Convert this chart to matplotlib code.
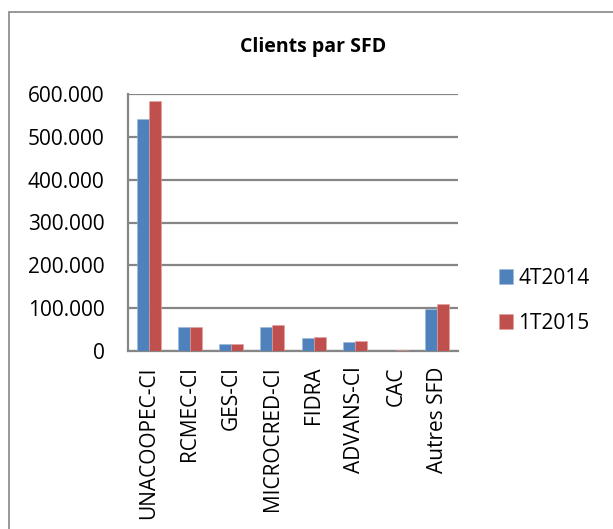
import matplotlib.pyplot as plt
import matplotlib.patches as patches
from matplotlib.ticker import FuncFormatter
import numpy as np

# Data
categories = ['UNACOOPEC-CI', 'RCMEC-CI', 'GES-CI', 'MICROCRED-CI',
              'FIDRA', 'ADVANS-CI', 'CAC', 'Autres SFD']
t4_2014 = [542000, 56000, 15600, 57000, 31000, 21000, 500, 98000]
t1_2015 = [583000, 57000, 16300, 60700, 32700, 24000, 3000, 110500]
series_names = ['4T2014', '1T2015']
yticks = [0, 100000, 200000, 300000, 400000, 500000, 600000]

blue = '#4F81BD'
red = '#C0504D'
grid_col = '#868686'

plt.rcParams['font.family'] = ['Open Sans', 'DejaVu Sans']

fig = plt.figure(figsize=(6.13, 5.29), dpi=100)

# outer chart frame (right/bottom edges run past the image)
frame = patches.Rectangle((9 / 613, -0.1), 1.2, 1 - 12 / 529 + 0.1,
                          transform=fig.transFigure, fill=False,
                          edgecolor=grid_col, linewidth=1.2)
fig.patches.append(frame)

ax = fig.add_axes([128 / 613, 1 - 351 / 529, 330 / 613, 257 / 529])

x = np.arange(len(categories))
w = 0.29
b1 = ax.bar(x - w / 2, t4_2014, w, color=blue, edgecolor='#9db8d9',
            linewidth=0.4, label=series_names[0], zorder=3)
b2 = ax.bar(x + w / 2, t1_2015, w, color=red, edgecolor='#e0a09e',
            linewidth=0.4, label=series_names[1], zorder=3)

ax.set_xlim(-0.5, len(categories) - 0.5)
ax.set_ylim(0, 600000)
ax.set_yticks(yticks)
ax.yaxis.set_major_formatter(
    FuncFormatter(lambda v, p: f'{int(v):,}'.replace(',', '.')))
ax.grid(axis='y', color=grid_col, linewidth=1.6, zorder=0)
ax.set_xticks(x)
ax.set_xticklabels(categories, rotation=90, fontsize=15)
ax.tick_params(axis='y', labelsize=15, length=0, pad=17)
ax.tick_params(axis='x', length=0, pad=11)

for s in ['top', 'right']:
    ax.spines[s].set_visible(False)
for s in ['left', 'bottom']:
    ax.spines[s].set_color(grid_col)
    ax.spines[s].set_linewidth(1.6)

fig.text(313 / 613, 1 - 47 / 529, 'Clients par SFD', ha='center',
         va='center', fontsize=14, fontweight='bold')

fig.legend(handles=[b1, b2], loc='center left',
           bbox_to_anchor=(480 / 613, 1 - 301 / 529), frameon=False,
           fontsize=15, handlelength=0.7, handleheight=0.7,
           handletextpad=0.25, labelspacing=1.15)

plt.savefig('out.png', dpi=100)
